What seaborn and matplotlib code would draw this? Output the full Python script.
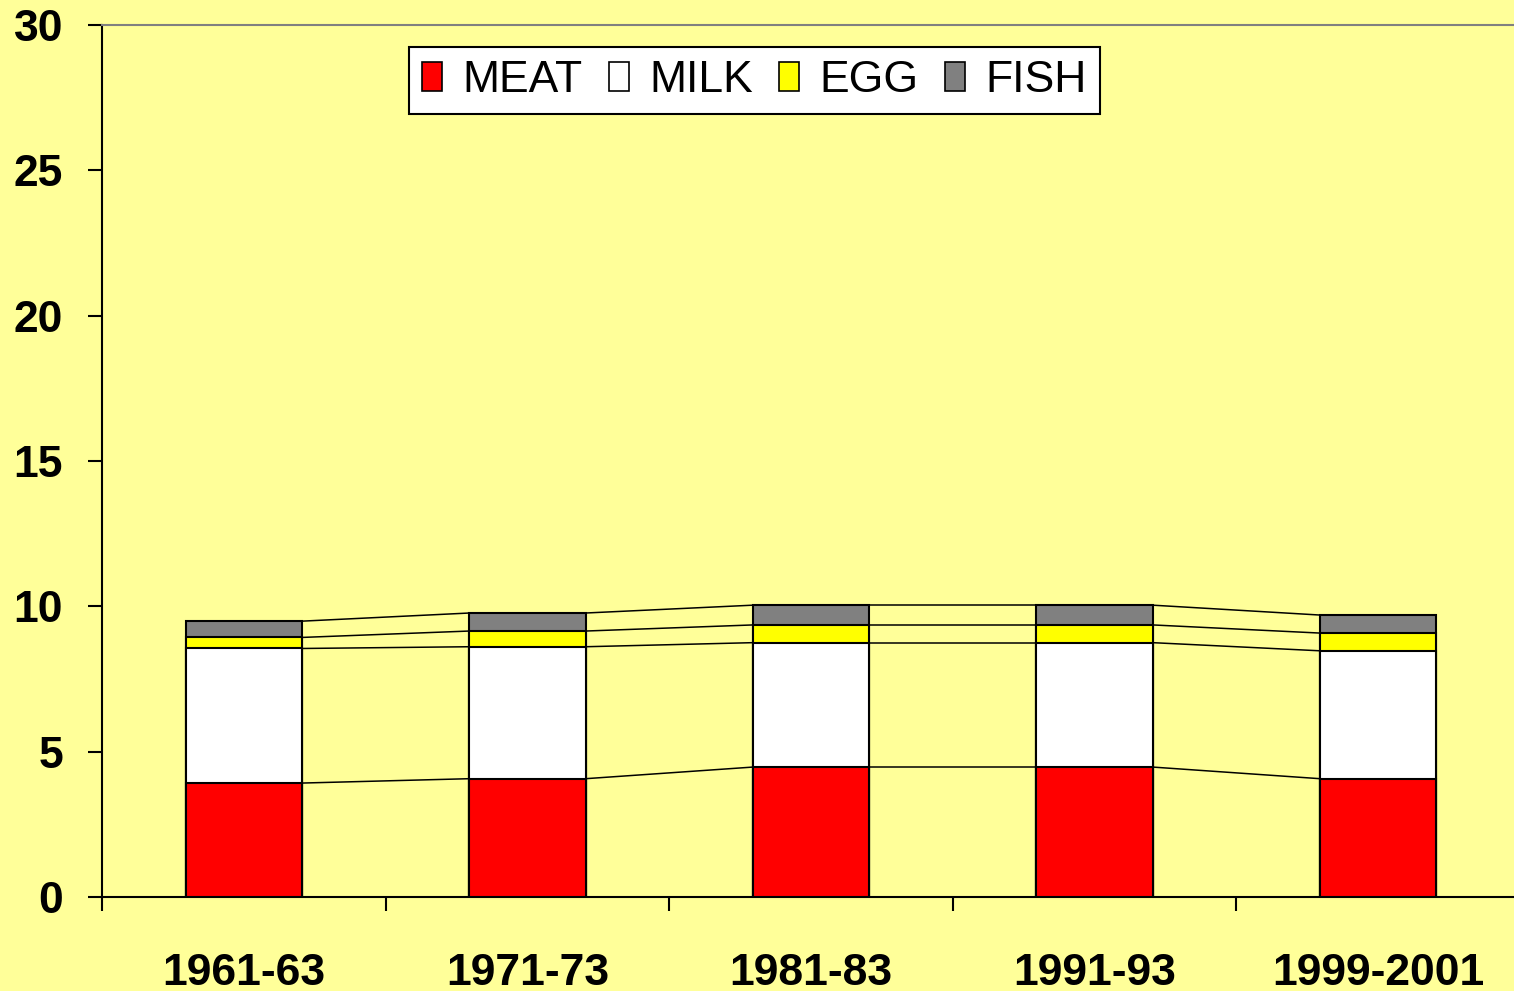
import numpy as np
import pandas as pd
import matplotlib
matplotlib.use("Agg")
import matplotlib.pyplot as plt
import seaborn as sns
from matplotlib.patches import Patch

# valores
periodos = ["1961-63", "1971-73", "1981-83", "1991-93", "1999-2001"]
carne = [3.92, 4.07, 4.47, 4.47, 4.07]
leite = [4.63, 4.54, 4.28, 4.28, 4.40]
ovo = [0.38, 0.54, 0.61, 0.61, 0.61]
peixe = [0.56, 0.62, 0.68, 0.68, 0.62]

nomes = ["MEAT", "MILK", "EGG", "FISH"]
cores = ["#FF0000", "#FFFFFF", "#FFFF00", "#808080"]
fundo = "#FFFF99"

df = pd.DataFrame({"periodo": periodos, "MEAT": carne, "MILK": leite,
                   "EGG": ovo, "FISH": peixe})
acum = df[nomes].cumsum(axis=1)

plt.rcParams['font.family'] = ['Liberation Sans', 'DejaVu Sans']
fig = plt.figure(figsize=(15.14, 9.91), dpi=100, facecolor=fundo)
ax = fig.add_axes([102 / 1514, 94 / 991, 1418 / 1514, 872 / 991])
ax.set_facecolor(fundo)

largura = 0.41
# barras empilhadas: desenha do total para baixo
for nome, cor in reversed(list(zip(nomes, cores))):
    sns.barplot(x=df["periodo"], y=acum[nome], color=cor, saturation=1,
                width=largura, edgecolor="black", linewidth=1.5, ax=ax,
                zorder=3)

# linhas de serie entre as barras
for nome in nomes:
    for i in range(len(periodos) - 1):
        ax.plot([i + largura / 2, i + 1 - largura / 2],
                [acum[nome][i], acum[nome][i + 1]],
                color="black", lw=1.1, zorder=2)

ax.set_xlim(-0.5, len(periodos) - 0.5)
ax.set_ylim(0, 30)
ax.set_yticks(range(0, 31, 5))
ax.set_xlabel("")
ax.set_ylabel("")

ax.set_xticks(np.arange(-0.5, len(periodos), 1), minor=True)
ax.tick_params(axis="x", which="major", length=0, pad=40, labelsize=32)
ax.tick_params(axis="x", which="minor", length=10, width=1.5, direction="out")
ax.tick_params(axis="y", length=10, width=1.5, pad=18, labelsize=32)
for t in ax.get_xticklabels() + ax.get_yticklabels():
    t.set_fontweight("bold")

for s in ["left", "bottom"]:
    ax.spines[s].set_linewidth(1.5)
    ax.spines[s].set_color("black")
ax.spines["top"].set_color("#808080")
ax.spines["top"].set_linewidth(1.5)
ax.spines["right"].set_visible(False)

alcas = [Patch(facecolor=c, edgecolor="black", linewidth=1.2) for c in cores]
leg = ax.legend(alcas, nomes, ncol=4, loc="upper center",
                bbox_to_anchor=(0.46, 0.975), borderaxespad=0,
                frameon=True, fancybox=False,
                framealpha=1, edgecolor="black", fontsize=32,
                handlelength=0.45, handleheight=0.65, handletextpad=0.45,
                columnspacing=0.6, borderpad=0.3)
leg.get_frame().set_linewidth(1.5)

fig.savefig("out.png", dpi=100, facecolor=fundo)
